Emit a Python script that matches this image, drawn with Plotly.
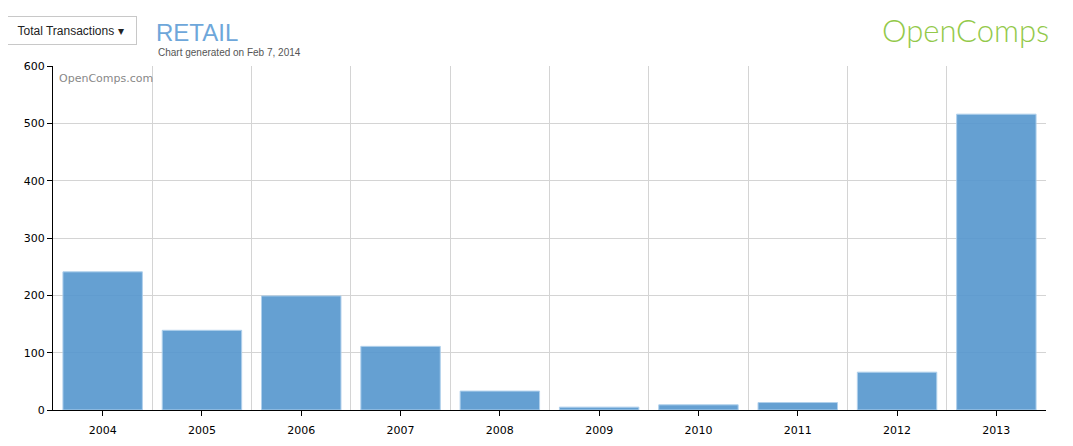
import plotly.graph_objects as go

years = ["2004", "2005", "2006", "2007", "2008", "2009", "2010", "2011", "2012", "2013"]
transactions = [241, 139, 199, 111, 33, 5, 9, 13, 66, 516]
y_ticks = [0, 100, 200, 300, 400, 500, 600]

positions = list(range(len(years)))
boundaries = [p + 0.5 for p in positions]

fig = go.Figure()
fig.add_trace(go.Bar(
    x=positions,
    y=transactions,
    marker=dict(color="rgb(88,152,207)", opacity=0.92,
                line=dict(color="rgb(170,205,235)", width=1)),
    width=0.8,
    hoverinfo="x+y",
))

fig.update_layout(
    width=1073, height=446,
    margin=dict(l=45, r=35, t=58, b=44),
    paper_bgcolor="white", plot_bgcolor="white",
    showlegend=False,
    font=dict(family="DejaVu Sans", size=11, color="black"),
    xaxis=dict(
        range=[-0.5, 9.5],
        tickmode="array", tickvals=positions, ticktext=years,
        showgrid=False, zeroline=False,
        showline=True, linecolor="black", linewidth=1,
        ticks="outside", ticklen=5, tickcolor="black",
        ticklabelstandoff=5,
        tickfont=dict(family="DejaVu Sans", size=11, color="black"),
        minor=dict(tickmode="array", tickvals=[-0.5] + boundaries, showgrid=True,
                   gridcolor="#d4d4d4", gridwidth=1, ticks=""),
        fixedrange=True,
    ),
    yaxis=dict(
        range=[0, 600],
        tickmode="array", tickvals=y_ticks,
        showgrid=True, gridcolor="#d4d4d4", gridwidth=1,
        zeroline=False,
        showline=True, linecolor="black", linewidth=1,
        ticks="outside", ticklen=5, tickcolor="black",
        tickfont=dict(family="DejaVu Sans", size=11, color="black"),
        fixedrange=True,
    ),
    annotations=[
        dict(text="Total Transactions \u25BE", xref="paper", yref="paper",
             x=(70.5 - 53) / 993, y=(410 - 30.5) / 344, xanchor="center", yanchor="middle",
             showarrow=False, font=dict(family="Liberation Sans", size=12, color="#222"),
             bordercolor="#c8c8c8", borderwidth=1, borderpad=5, bgcolor="white",
             width=121, height=17),
        dict(text="RETAIL", xref="paper", yref="paper",
             x=(154 - 53) / 993, y=(410 - 32) / 344, xanchor="left", yanchor="middle",
             showarrow=False, font=dict(family="Liberation Sans", size=24, color="#6ea7da")),
        dict(text="Chart generated on Feb 7, 2014", xref="paper", yref="paper",
             x=(156 - 53) / 993, y=(410 - 52.5) / 344, xanchor="left", yanchor="middle",
             showarrow=False, font=dict(family="Liberation Sans", size=10, color="#555")),
        dict(text="OpenComps", xref="paper", yref="paper",
             x=(1051 - 53) / 993, y=(410 - 30) / 344, xanchor="right", yanchor="middle",
             showarrow=False, font=dict(family="Lato", size=31, color="#93c94a", weight=300)),
        dict(text="OpenComps.com", xref="paper", yref="paper",
             x=(57 - 53) / 993, y=(410 - 79) / 344, xanchor="left", yanchor="middle",
             showarrow=False, font=dict(family="DejaVu Sans", size=11, color="#888")),
    ],
)

fig.write_html("out.html")
